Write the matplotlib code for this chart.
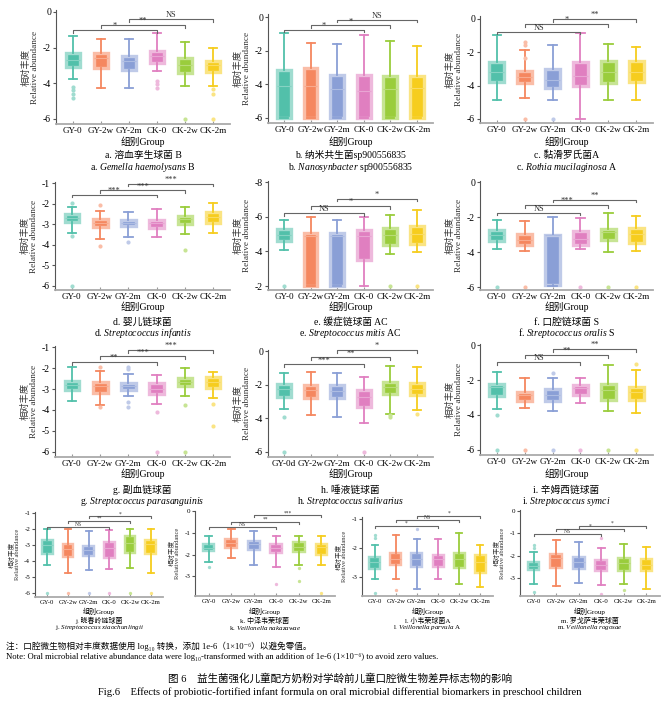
import matplotlib.pyplot as plt
import matplotlib.colors as mcolors

plt.rcParams['font.family'] = ['Liberation Serif', 'Noto Sans CJK SC', 'DejaVu Serif']
plt.rcParams['axes.unicode_minus'] = False
plt.rcParams['mathtext.fontset'] = 'custom'
plt.rcParams['mathtext.rm'] = 'Liberation Serif'
plt.rcParams['mathtext.it'] = 'Liberation Serif:italic'

GROUPS = ["GY-0", "GY-2w", "GY-2m", "CK-0", "CK-2w", "CK-2m"]
COLORS = ["#52c0aa", "#f5875f", "#8a9fd6", "#e07fc0", "#9acd3c", "#f6cd1e"]
PAIRS = [(0, 3), (1, 4), (2, 5)]

# per group: low whisker, q1, median, q3, high whisker
A_BOX = [[-3.78, -3.10, -2.70, -2.33, -1.36], [-4.28, -3.17, -2.60, -2.33, -1.53],
         [-4.28, -3.26, -2.75, -2.48, -1.53], [-3.31, -2.85, -2.50, -2.18, -1.21],
         [-4.15, -3.45, -2.98, -2.60, -1.71], [-4.15, -3.35, -2.98, -2.74, -2.00]]
A_OUT = [[-4.2, -4.4, -4.6, -4.8], [], [], [-3.87, -4.06, -4.28], [-6.0], [-4.34, -4.6, -6.0]]
A_SIG = [-1.0, -0.73, -0.42]
A_LAB = ["*", "**", "NS"]

B_BOX = [[-6, -6, -4.10, -3.13, -0.95], [-6, -6, -4.08, -3.03, -1.55],
         [-6, -6, -4.30, -3.43, -1.60], [-6, -6, -4.40, -3.43, -1.09],
         [-6, -6, -4.30, -3.49, -1.45], [-6, -6, -4.20, -3.49, -1.74]]
B_OUT = [[], [], [], [], [], []]
B_SIG = [-0.75, -0.5, -0.16]
B_LAB = ["*", "*", "NS"]

C_BOX = [[-4.84, -3.80, -3.20, -2.61, -0.96], [-4.74, -3.84, -3.49, -3.09, -1.85],
         [-4.84, -4.14, -3.65, -3.00, -1.55], [-6.00, -4.00, -3.40, -2.59, -0.86],
         [-4.84, -3.84, -3.15, -2.51, -1.49], [-4.88, -3.75, -3.15, -2.55, -1.69]]
C_OUT = [[], [-1.35, -1.55, -2.35, -6.0], [-6.0], [], [], []]
C_SIG = [-0.76, -0.3, 0.0]
C_LAB = ["NS", "*", "**"]

D_BOX = [[-3.41, -2.90, -2.71, -2.50, -2.18], [-3.74, -3.15, -2.92, -2.76, -2.34],
         [-3.64, -3.08, -2.92, -2.79, -2.43], [-3.60, -3.20, -2.95, -2.79, -2.25],
         [-3.48, -2.99, -2.76, -2.60, -2.17], [-3.41, -2.92, -2.63, -2.43, -1.98]]
D_OUT = [[-1.98, -3.57, -6.0], [-2.06, -4.06], [-3.85], [], [-4.26], []]
D_SIG = [-1.57, -1.36, -1.03]
D_LAB = ["***", "***", "***"]

E_BOX = [[-4.06, -4.60, -4.92, -5.31, -5.83], [-2.00, -2.00, -4.90, -5.06, -5.98],
         [-2.00, -2.00, -4.90, -5.08, -5.79], [-2.00, -3.52, -4.90, -5.25, -5.98],
         [-3.83, -4.35, -4.92, -5.37, -6.12], [-3.96, -4.40, -5.02, -5.44, -6.40]]
E_OUT = [[-2.0], [], [], [], [-2.0], [-2.0]]
E_SIG = [-6.21, -6.6, -7.04]
E_LAB = ["NS", "*", "*"]

F_BOX = [[-3.85, -3.37, -3.05, -2.76, -2.19], [-3.94, -3.62, -3.30, -2.99, -2.23],
         [-5.95, -5.90, -3.02, -3.00, -2.00], [-3.85, -3.62, -3.24, -2.82, -2.04],
         [-4.00, -3.33, -2.86, -2.67, -1.77], [-3.96, -3.49, -2.95, -2.61, -1.94]]
F_OUT = [[-6.0], [-6.0], [], [-6.0], [-6.0], [-6.0]]
F_SIG = [-1.75, -1.33, -1.0]
F_LAB = ["NS", "***", "**"]

G_BOX = [[-3.57, -3.04, -2.80, -2.61, -1.96], [-3.76, -3.20, -2.88, -2.68, -2.13],
         [-3.33, -3.04, -2.84, -2.73, -2.28], [-3.73, -3.25, -3.00, -2.73, -2.33],
         [-3.33, -2.88, -2.65, -2.49, -2.00], [-3.41, -2.93, -2.65, -2.45, -2.17]]
G_OUT = [[], [-1.93, -3.84], [-1.96, -2.05, -3.6, -3.84], [-4.08, -6.0], [-3.76, -6.0], [-3.73, -4.75]]
G_SIG = [-1.72, -1.45, -1.13]
G_LAB = ["**", "***", "***"]

H_BOX = [[-3.42, -2.72, -2.23, -1.99, -1.33], [-3.78, -2.82, -2.33, -2.03, -1.23],
         [-3.92, -2.82, -2.39, -2.03, -1.33], [-4.25, -3.32, -2.72, -2.29, -1.53],
         [-3.72, -2.58, -2.13, -1.87, -0.89], [-3.52, -2.62, -2.23, -1.93, -0.97]]
H_OUT = [[-3.92, -6.0], [], [], [-6.0], [-3.82, -3.95], [-3.76]]
H_SIG = [-0.8, -0.38, 0.06]
H_LAB = ["***", "**", "*"]

I_BOX = [[-3.66, -2.90, -2.38, -2.25, -1.52], [-3.62, -3.20, -2.86, -2.67, -1.87],
         [-3.77, -3.20, -2.86, -2.51, -1.90], [-3.33, -2.86, -2.48, -2.29, -1.87],
         [-3.77, -3.14, -2.57, -2.25, -1.14], [-3.90, -3.14, -2.67, -2.38, -1.43]]
I_OUT = [[-4.0, -6.0], [-6.0], [-1.62, -6.0], [-6.0], [-6.0], [-1.1, -6.0]]
I_SIG = [-0.99, -0.57, -0.23]
I_LAB = ["NS", "**", "**"]

J_BOX = [[-4.23, -3.56, -2.98, -2.67, -2.04], [-4.75, -3.75, -3.23, -2.92, -1.98],
         [-4.54, -3.71, -3.35, -3.08, -2.15], [-4.50, -3.81, -3.19, -2.83, -2.10],
         [-4.44, -3.50, -2.88, -2.46, -1.98], [-4.75, -3.56, -2.94, -2.67, -1.98]]
J_OUT = [[-6.0], [-6.0], [-6.0], [-6.0], [-6.0], [-6.0]]
J_SIG = [-1.88, -1.52, -1.21]
J_LAB = ["NS", "**", "*"]

K_BOX = [[-2.34, -1.83, -1.68, -1.52, -1.14], [-2.14, -1.69, -1.45, -1.26, -0.80],
         [-2.49, -1.80, -1.52, -1.37, -0.88], [-2.57, -1.91, -1.68, -1.49, -1.14],
         [-2.49, -1.85, -1.62, -1.42, -1.14], [-2.46, -2.03, -1.65, -1.49, -1.14]]
K_OUT = [[-2.57], [], [], [-3.34], [-2.62, -3.22], [-3.77]]
K_SIG = [-0.72, -0.49, -0.18]
K_LAB = ["NS", "**", "***"]

L_BOX = [[-3.08, -2.73, -2.48, -2.31, -1.88], [-3.08, -2.60, -2.36, -2.16, -1.53],
         [-3.43, -2.65, -2.36, -2.16, -1.67], [-3.06, -2.65, -2.39, -2.25, -1.67],
         [-3.23, -2.69, -2.36, -2.16, -1.47], [-3.35, -2.85, -2.48, -2.25, -1.88]]
L_OUT = [[-1.53, -1.65, -3.54], [-3.46], [-1.32], [], [], []]
L_SIG = [-1.23, -1.03, -0.88]
L_LAB = ["*", "NS", "*"]

M_BOX = [[-3.28, -2.64, -2.45, -2.27, -1.82], [-3.34, -2.54, -2.12, -1.90, -1.30],
         [-3.24, -2.57, -2.27, -2.04, -1.37], [-3.31, -2.69, -2.42, -2.19, -1.67],
         [-3.28, -2.69, -2.34, -2.12, -1.49], [-3.49, -2.69, -2.39, -2.15, -1.60]]
M_OUT = [[-1.52, -1.63, -3.64], [], [], [-1.19, -3.69], [-3.54], []]
M_SIG = [-1.04, -0.8, -0.66]
M_LAB = ["NS", "*", "*"]

CAP_CN = ["a. 溶血孪生球菌 B", "b. 纳米共生菌sp900556835", "c. 黏滑罗氏菌A",
          "d. 婴儿链球菌", "e. 缓症链球菌 AC", "f. 口腔链球菌 S",
          "g. 副血链球菌", "h. 唾液链球菌", "i. 辛姆西链球菌",
          "j. 晓春岭链球菌", "k. 中泽韦荣球菌", "l. 小韦荣球菌A", "m. 罗戈萨韦荣球菌"]
CAP_LA = [r"a. $\it{Gemella\ haemolysans}$ B", r"b. $\it{Nanosynbacter}$ sp900556835",
          r"c. $\it{Rothia\ mucilaginosa}$ A", r"d. $\it{Streptococcus\ infantis}$",
          r"e. $\it{Streptococcus\ mitis}$ AC", r"f. $\it{Streptococcus\ oralis}$ S",
          r"g. $\it{Streptococcus\ parasanguinis}$", r"h. $\it{Streptococcus\ salivarius}$",
          r"i. $\it{Streptococcus\ symci}$", r"j. $\it{Streptococcus\ xiaochunlingii}$",
          r"k. $\it{Veillonella\ nakazawae}$", r"l. $\it{Veillonella\ parvula}$ A",
          r"m. $\it{Veillonella\ rogosae}$"]

W, H = 666, 705
fig = plt.figure(figsize=(W / 100, H / 100), dpi=100)


def light(c, f=0.45):
    r, g, b = mcolors.to_rgb(c)
    return (r + (1 - r) * f, g + (1 - g) * f, b + (1 - b) * f)


def panel(rect, ylim, yticks, box, out, sig, lab, xlabels, small=False):
    x0, yt, x1, yb = rect
    ax = fig.add_axes([x0 / W, 1 - yb / H, (x1 - x0) / W, (yb - yt) / H])
    fs = 5.0 if small else 7.0
    xfs = 4.8 if small else 6.6
    for i, (lo, q1, med, q3, hi) in enumerate(box):
        c = COLORS[i]
        lc = light(c)
        st = dict(whislo=lo, q1=q1, med=med, q3=q3, whishi=hi, fliers=out[i])
        ax.bxp([st], positions=[i], widths=0.52, patch_artist=True, capwidths=0.3,
               boxprops=dict(facecolor=c, edgecolor=lc, linewidth=2.4 if not small else 1.7),
               whiskerprops=dict(color=c, linewidth=1.3),
               capprops=dict(color=c, linewidth=1.3),
               medianprops=dict(color=light(c, 0.3), linewidth=0.8),
               flierprops=dict(marker='o', markersize=3 if not small else 2.4,
                               markerfacecolor=lc, markeredgecolor='none'))
    ax.set_xlim(-0.6, 5.6)
    ax.set_ylim(*ylim)
    ax.set_yticks(yticks)
    ax.set_xticks(range(6))
    ax.set_xticklabels(xlabels)
    ax.tick_params(axis='x', direction='in', length=2.5, color='#999', labelsize=xfs, pad=2)
    ax.tick_params(axis='y', direction='out', length=2, color='#555', labelsize=fs, pad=1.5)
    for s in ['top', 'right']:
        ax.spines[s].set_visible(False)
    ax.spines['bottom'].set_color('#aaa')
    ax.spines['bottom'].set_linewidth(1.3)
    ax.spines['left'].set_color('#555')
    ax.spines['left'].set_linewidth(0.8)
    ax.set_ylabel("相对丰度\nRelative abundance", fontsize=fs - 0.3, linespacing=1.05,
                  labelpad=3, color='#333')
    d = 0.025 * (ylim[1] - ylim[0])
    for (a, b), y, t in zip(PAIRS, sig, lab):
        ax.plot([a, a, b, b], [y - d, y, y, y - d], color='#666', lw=0.8, clip_on=False)
        ax.text((a + b) / 2, y, t, ha='center', va='bottom',
                fontsize=fs - 1.0, color='#333')
    return ax


def caption(xc, ys, idx, small=False):
    fs = 5.0 if small else 7.0
    fig.text(xc / W, 1 - ys[0] / H, "组别Group", ha='center', va='center', fontsize=fs)
    fig.text(xc / W, 1 - ys[1] / H, CAP_CN[idx], ha='center', va='center', fontsize=fs)
    fig.text(xc / W, 1 - ys[2] / H, CAP_LA[idx], ha='center', va='center', fontsize=fs)


H_LABELS = ["GY-0d", "GY-2w", "GY-2m", "CK-0", "CK-2w", "CK-2m"]
t6 = [0, -2, -4, -6]
t16 = [-1, -2, -3, -4, -5, -6]

rows = [
    [((56, 10, 230, 124), (-6.28, 0.1), t6, A_BOX, A_OUT, A_SIG, A_LAB, GROUPS),
     ((268, 14, 433, 123), (-6.3, 0.18), t6, B_BOX, B_OUT, B_SIG, B_LAB, GROUPS),
     ((480, 16, 653, 123), (-6.24, 0.18), t6, C_BOX, C_OUT, C_SIG, C_LAB, GROUPS)],
    [((55, 182, 230, 290), (-6.2, -0.95), t16, D_BOX, D_OUT, D_SIG, D_LAB, GROUPS),
     ((268, 181, 433, 290), (-1.77, -8.06), [-8, -6, -4, -2], E_BOX, E_OUT, E_SIG, E_LAB, GROUPS),
     ((480, 181, 653, 290), (-6.17, 0.06), t6, F_BOX, F_OUT, F_SIG, F_LAB, GROUPS)],
    [((55, 346, 230, 457), (-6.24, -0.95), t16, G_BOX, G_OUT, G_SIG, G_LAB, GROUPS),
     ((268, 350, 433, 457), (-6.3, 0.06), t6, H_BOX, H_OUT, H_SIG, H_LAB, H_LABELS),
     ((480, 344, 653, 455), (-6.29, 0.06), t6, I_BOX, I_OUT, I_SIG, I_LAB, GROUPS)],
]
row_text_y = [(142, 155, 167), (307, 322, 333), (474, 490, 501)]

idx = 0
for r, row in enumerate(rows):
    for rect, ylim, yt, box, out, sig, lab, xl in row:
        panel(rect, ylim, yt, box, out, sig, lab, xl)
        caption((rect[0] + rect[2]) / 2, row_text_y[r], idx)
        idx += 1

row4 = [((35, 512, 163, 597), (-6.25, -0.95), t16, J_BOX, J_OUT, J_SIG, J_LAB),
        ((195, 511, 335, 596), (-3.9, 0.02), [0, -1, -2, -3], K_BOX, K_OUT, K_SIG, K_LAB),
        ((362, 517, 493, 596), (-3.66, -0.92), [-1, -2, -3], L_BOX, L_OUT, L_SIG, L_LAB),
        ((520, 510, 660, 596), (-3.8, 0.05), [0, -1, -2, -3], M_BOX, M_OUT, M_SIG, M_LAB)]
for rect, ylim, yt, box, out, sig, lab in row4:
    panel(rect, ylim, yt, box, out, sig, lab, GROUPS, small=True)
    caption((rect[0] + rect[2]) / 2, (611, 620, 628), idx, small=True)
    idx += 1

fig.text(6 / W, 1 - 646 / H, "注：口腔微生物相对丰度数据使用 log₁₀ 转换，添加 1e-6（1×10⁻⁶）以避免零值。",
         ha='left', va='center', fontsize=6.2)
fig.text(6 / W, 1 - 657 / H, "Note: Oral microbial relative abundance data were log₁₀-transformed "
         "with an addition of 1e-6 (1×10⁻⁶) to avoid zero values.",
         ha='left', va='center', fontsize=6.2)
fig.text(340 / W, 1 - 679 / H, "图 6    益生菌强化儿童配方奶粉对学龄前儿童口腔微生物差异标志物的影响",
         ha='center', va='center', fontsize=7.6)
fig.text(340 / W, 1 - 692 / H, "Fig.6    Effects of probiotic-fortified infant formula on oral "
         "microbial differential biomarkers in preschool children",
         ha='center', va='center', fontsize=7.6)

fig.savefig("out.png", dpi=100)
